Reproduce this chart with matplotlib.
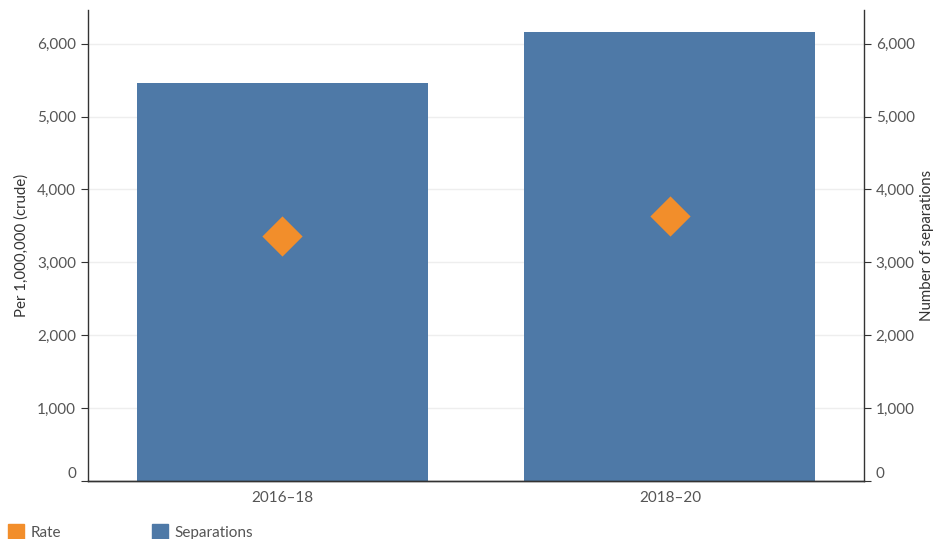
import matplotlib.pyplot as plt
from matplotlib.lines import Line2D
from matplotlib.ticker import FuncFormatter

# donnees
periodes = ["2016\u201318", "2018\u201320"]
separations = [5460, 6165]
taux = [3360, 3635]

bleu = "#4e79a7"
orange = "#f28e2b"
gris = "#555555"

plt.rcParams['font.family'] = ['Lato', 'DejaVu Sans']

fig = plt.figure(figsize=(9.37, 5.39), dpi=100)
ax = fig.add_axes([0.094, 0.108, 0.828, 0.873])
ax2 = ax.twinx()

# barres sur l'axe de droite, losanges sur l'axe de gauche
x = list(range(len(periodes)))
ax2.bar(x, separations, width=0.75, color=bleu, zorder=2)
ax.scatter(x, taux, marker='D', s=420, color=orange, zorder=3, linewidths=0)

ax.set_zorder(ax2.get_zorder() + 1)
ax.patch.set_visible(False)

fmt = FuncFormatter(lambda v, p: f"{int(v):,}")
for a in (ax, ax2):
    a.set_ylim(0, 6460)
    a.set_xlim(-0.5, 1.5)
    a.set_yticks(range(0, 7000, 1000))
    a.yaxis.set_major_formatter(fmt)
    a.tick_params(axis='y', colors='#333333', labelcolor=gris, labelsize=11, length=5, width=0.8)
    a.spines['top'].set_visible(False)
    for s in a.spines.values():
        s.set_color('#333333')
        s.set_linewidth(1)

ax2.grid(axis='y', color='#eeeeee', linewidth=1, zorder=0)
ax2.set_axisbelow(True)
ax.spines['right'].set_visible(False)
ax2.spines['left'].set_visible(False)

ax.set_xticks(x)
ax.set_xticklabels(periodes)
ax.tick_params(axis='x', length=0, labelsize=11, labelcolor=gris, pad=7)

ax.set_ylabel("Per 1,000,000 (crude)", fontsize=10.8, color='#333333', labelpad=6)
ax2.set_ylabel("Number of separations", fontsize=10.8, color='#333333', labelpad=4)

# le 0 est un peu au-dessus de l'axe
fig.canvas.draw()
for a in (ax, ax2):
    a.get_yticklabels()[0].set_va('bottom')

handles = [
    Line2D([], [], marker='s', linestyle='none', markersize=12, color=orange),
    Line2D([], [], marker='s', linestyle='none', markersize=12, color=bleu),
]
fig.legend(handles, ["Rate", "Separations"], loc='lower left', bbox_to_anchor=(-0.006, -0.028),
           ncol=2, frameon=False, handlelength=1, handletextpad=0.45, columnspacing=6.0,
           fontsize=11, labelcolor=gris)

fig.savefig("out.png", dpi=100)
